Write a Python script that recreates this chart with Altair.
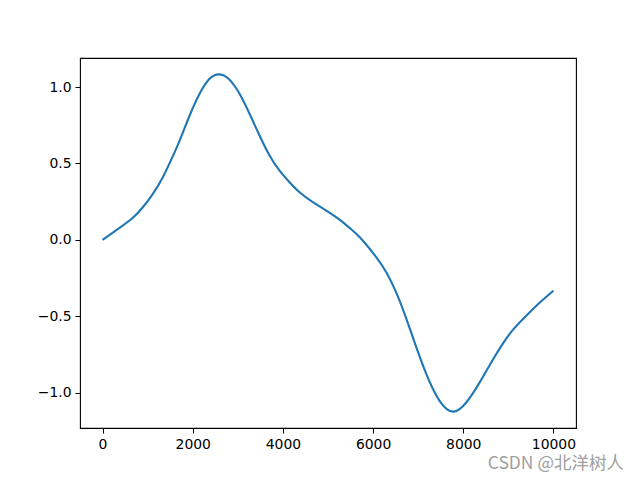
import altair as alt
import pandas as pd

xs = [0, 377, 672, 894, 1116, 1337, 1524, 1708, 1930, 2152, 2373, 2580, 2795,
      3038, 3260, 3482, 3704, 3926, 4147, 4369, 4664, 4961, 5256, 5478, 5720,
      6032, 6292, 6587, 6882, 7179, 7474, 7775, 8066, 8361, 8656, 8878, 9100,
      9397, 9692, 10000]
ys = [0.0, 0.078, 0.144, 0.213, 0.301, 0.410, 0.525, 0.648, 0.812, 0.956,
      1.054, 1.083, 1.054, 0.956, 0.825, 0.683, 0.552, 0.453, 0.377, 0.311,
      0.246, 0.191, 0.132, 0.078, 0.012, -0.099, -0.213, -0.398, -0.639,
      -0.878, -1.054, -1.125, -1.065, -0.935, -0.785, -0.680, -0.590, -0.497,
      -0.412, -0.333]

x_ticks = [0, 2000, 4000, 6000, 8000, 10000]
y_ticks = [-1.0, -0.5, 0.0, 0.5, 1.0]

df = pd.DataFrame({"x": xs, "y": ys})

axis_common = dict(
    grid=False, domain=False, ticks=True, tickColor="black", tickSize=5,
    tickWidth=1, labelFont="DejaVu Sans", labelFontSize=13.9,
    labelColor="black", labelPadding=4, title=None,
)

chart = alt.Chart(df).mark_line(
    color="#1f77b4", strokeWidth=2.1, interpolate="natural"
).encode(
    x=alt.X("x:Q", scale=alt.Scale(domain=[-500, 10500], nice=False, zero=False),
            axis=alt.Axis(values=x_ticks, format="d", **axis_common)),
    y=alt.Y("y:Q", scale=alt.Scale(domain=[-1.232, 1.190], nice=False, zero=False),
            axis=alt.Axis(values=y_ticks, format=".1f", **axis_common)),
).properties(
    width=496, height=370,
    autosize=alt.AutoSizeParams(type="none"),
    padding={"left": 72, "top": 50, "right": 56, "bottom": 44},
    title=alt.TitleParams(
        text="CSDN @北洋树人", orient="bottom", anchor="end", dx=48, dy=0,
        color="#a0a0a0", fontSize=17.5, fontWeight="normal",
        font="Noto Sans CJK SC",
    ),
).configure_view(stroke="black", strokeWidth=1.1)

chart.save("out.html", embed_options={"renderer": "svg", "actions": False})
